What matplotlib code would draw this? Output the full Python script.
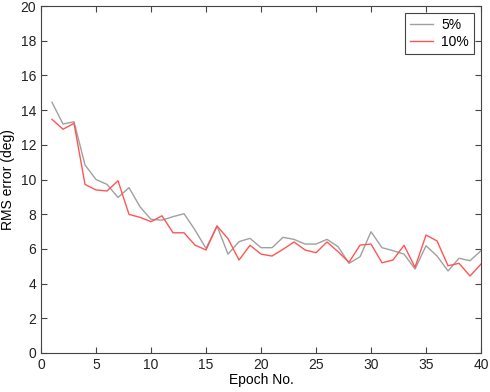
import matplotlib
matplotlib.use("Agg")
import matplotlib.pyplot as plt

epochs = list(range(1, 41))
err_5 = [14.45, 13.2, 13.33, 10.84, 10.0, 9.72, 8.97, 9.53, 8.43, 7.7,
         7.66, 7.86, 8.03, 7.09, 6.03, 7.32, 5.7, 6.42, 6.61, 6.07,
         6.07, 6.67, 6.55, 6.28, 6.28, 6.55, 6.13, 5.17, 5.55, 6.99,
         6.07, 5.9, 5.7, 4.84, 6.18, 5.59, 4.73, 5.46, 5.32, 5.9]
err_10 = [13.47, 12.9, 13.24, 9.72, 9.4, 9.34, 9.93, 7.99, 7.82, 7.57,
          7.91, 6.93, 6.93, 6.22, 5.94, 7.32, 6.59, 5.36, 6.21, 5.7,
          5.59, 5.98, 6.4, 5.94, 5.78, 6.4, 5.84, 5.23, 6.22, 6.28,
          5.2, 5.36, 6.21, 4.94, 6.8, 6.46, 5.03, 5.17, 4.44, 5.13]

plt.rcParams['font.family'] = ['Liberation Sans', 'DejaVu Sans']

fig = plt.figure(figsize=(4.9, 3.92), dpi=100)
ax = fig.add_axes([0.0837, 0.0995, 0.898, 0.885])

ax.plot(epochs, err_5, color="#a0a0a0", lw=1.0, label="5%")
ax.plot(epochs, err_10, color="#ff5555", lw=1.0, label="10%")

ax.set_xlim(0, 40)
ax.set_ylim(0, 20)
ax.set_xticks(range(0, 41, 5))
ax.set_yticks(range(0, 21, 2))
ax.tick_params(direction="in", top=True, right=True, labelsize=10,
               length=4, color="#444444", labelcolor="#222222")
for s in ax.spines.values():
    s.set_color("#444444")
    s.set_linewidth(0.8)

ax.set_xlabel("Epoch No.", fontsize=10, labelpad=1)
ax.set_ylabel("RMS error (deg)", fontsize=10, labelpad=4)

leg = ax.legend(loc="upper right", fontsize=10, fancybox=False,
                borderaxespad=0.5, borderpad=0.35, labelspacing=0.2,
                handlelength=1.7, handletextpad=0.6, framealpha=1)
leg.get_frame().set_edgecolor("#444444")
leg.get_frame().set_linewidth(0.8)

plt.savefig("out.png", dpi=100)
